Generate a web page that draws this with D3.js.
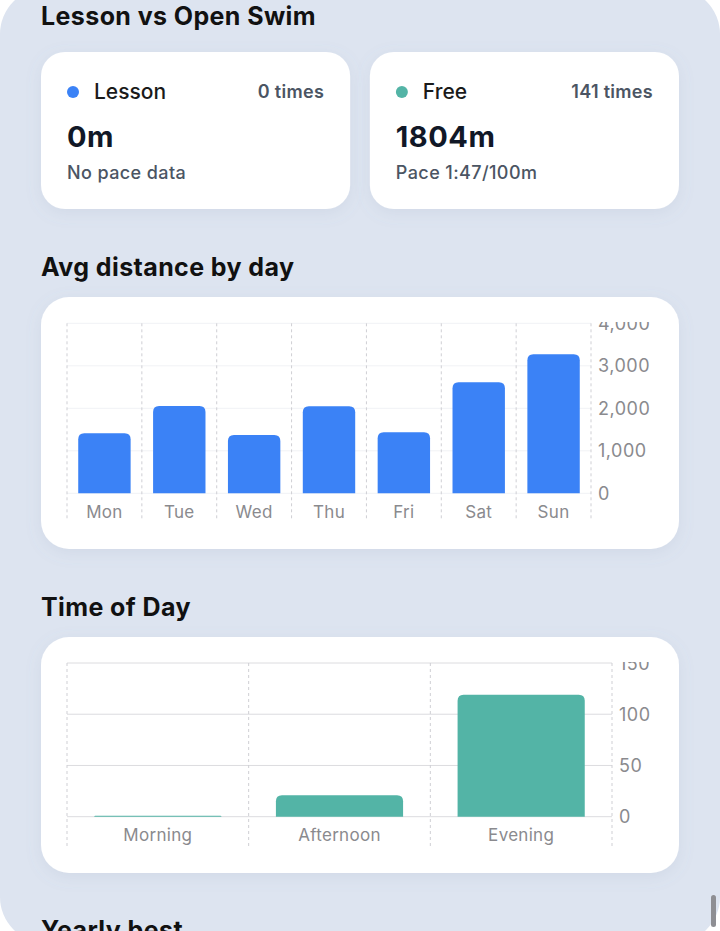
<!DOCTYPE html>
<html>
<head>
<meta charset="utf-8">
<script src="https://cdn.jsdelivr.net/npm/d3@7"></script>
<style>
  html, body { margin: 0; padding: 0; background: #ffffff; }
  svg { display: block; font-family: Inter, "Noto Sans", sans-serif; }
</style>
</head>
<body>
<svg id="chart" width="720" height="931"></svg>
<script>
// ---- data ----
const swimTypes = ["Lesson", "Free"];
const swimTimes = [0, 141];
const swimDistance = ["0m", "1804m"];
const swimPace = ["No pace data", "Pace 1:47/100m"];

const days = ["Mon", "Tue", "Wed", "Thu", "Fri", "Sat", "Sun"];
const avgDistance = [1412, 2054, 1372, 2050, 1435, 2612, 3271];
const distanceTicks = [0, 1000, 2000, 3000, 4000];

const periods = ["Morning", "Afternoon", "Evening"];
const sessionCounts = [1, 21, 119];
const countTicks = [0, 50, 100, 150];

// ---- style ----
const BLUE = "#3b82f6", TEAL = "#53b4a6";
const svg = d3.select("#chart");

const defs = svg.append("defs");
const f = defs.append("filter").attr("id", "shadow").attr("x", "-20%").attr("y", "-20%").attr("width", "140%").attr("height", "150%");
f.append("feDropShadow").attr("dx", 0).attr("dy", 4).attr("stdDeviation", 8).attr("flood-color", "#7a8aa8").attr("flood-opacity", 0.12);

// screen background
svg.append("rect").attr("x", 0).attr("y", -12).attr("width", 720).attr("height", 955)
  .attr("rx", 46).attr("fill", "#dde4f0");

function title(text, y) {
  svg.append("text").attr("x", 41).attr("y", y).text(text)
    .attr("font-size", 25).attr("font-weight", 700).attr("letter-spacing", 0.4).attr("fill", "#111111");
}
function card(x, y, w, h, r) {
  svg.append("rect").attr("x", x).attr("y", y).attr("width", w).attr("height", h)
    .attr("rx", r).attr("fill", "#ffffff").attr("filter", "url(#shadow)");
}
function topRounded(x, y, w, h, r) {
  r = Math.max(0, Math.min(r, h, w / 2));
  return `M${x},${y + h}V${y + r}Q${x},${y} ${x + r},${y}H${x + w - r}Q${x + w},${y} ${x + w},${y + r}V${y + h}Z`;
}

// ---- Lesson vs Open Swim ----
title("Lesson vs Open Swim", 25);
const cardX = d3.scaleBand().domain(swimTypes).range([41, 679]).paddingInner(0.06);
const dotColor = d3.scaleOrdinal().domain(swimTypes).range([BLUE, TEAL]);
swimTypes.forEach((t, i) => {
  const x0 = cardX(t), w = cardX.bandwidth();
  card(x0, 52, w, 157, 24);
  svg.append("circle").attr("cx", x0 + 32).attr("cy", 92).attr("r", 6).attr("fill", dotColor(t));
  svg.append("text").attr("x", x0 + 53).attr("y", 99).text(t)
    .attr("font-size", 21).attr("font-weight", 500).attr("fill", "#1a1a1a");
  svg.append("text").attr("x", x0 + w - 26).attr("y", 98).attr("text-anchor", "end")
    .text(swimTimes[i] + " times").attr("font-size", 18).attr("font-weight", 600)
    .attr("letter-spacing", 0.3).attr("fill", "#4b5563");
  svg.append("text").attr("x", x0 + 26).attr("y", 147).text(swimDistance[i])
    .attr("font-size", 29).attr("font-weight", 700).attr("letter-spacing", 0.5).attr("fill", "#111827");
  svg.append("text").attr("x", x0 + 26).attr("y", 179).text(swimPace[i])
    .attr("font-size", 18).attr("font-weight", 500).attr("letter-spacing", 0.4).attr("fill", "#4b5563");
});

// ---- generic bar chart ----
function barChart(opts) {
  const { cats, vals, ticks, color, x0, x1, yTop, yZero, vLineBottom, labelY, clipTop, cardBox, hGridColor, id } = opts;
  card(cardBox[0], cardBox[1], cardBox[2], cardBox[3], 28);
  const clip = defs.append("clipPath").attr("id", id);
  clip.append("rect").attr("x", cardBox[0]).attr("y", clipTop).attr("width", cardBox[2]).attr("height", cardBox[1] + cardBox[3] - clipTop);
  const g = svg.append("g").attr("clip-path", `url(#${id})`);

  const x = d3.scaleBand().domain(cats).range([x0, x1]).paddingInner(0.3).paddingOuter(0.15);
  const y = d3.scaleLinear().domain([0, d3.max(ticks)]).range([yZero, yTop]);
  const step = x.step();
  const boundaries = d3.range(cats.length + 1).map(i => x0 + i * step);

  // horizontal grid
  g.append("g").selectAll("line").data(ticks).join("line")
    .attr("x1", x0).attr("x2", x1).attr("y1", d => y(d)).attr("y2", d => y(d))
    .attr("stroke", hGridColor).attr("stroke-width", 1);
  // vertical dashed
  g.append("g").selectAll("line").data(boundaries).join("line")
    .attr("x1", d => d).attr("x2", d => d).attr("y1", yTop).attr("y2", vLineBottom)
    .attr("stroke", "#cfcfd4").attr("stroke-width", 1).attr("stroke-dasharray", "3,3");
  // bars
  g.append("g").selectAll("path").data(cats).join("path")
    .attr("d", (c, i) => topRounded(x(c), y(vals[i]), x.bandwidth(), yZero - y(vals[i]), 6))
    .attr("fill", color);
  // x labels
  g.append("g").selectAll("text").data(cats).join("text")
    .attr("x", c => x(c) + x.bandwidth() / 2).attr("y", labelY).attr("text-anchor", "middle")
    .text(c => c).attr("font-size", 17).attr("letter-spacing", 0.3).attr("fill", "#8a8a8e");
  // y labels
  const fmt = d3.format(",");
  g.append("g").selectAll("text").data(ticks).join("text")
    .attr("x", x1 + 7).attr("y", d => y(d)).attr("dominant-baseline", "central")
    .text(d => fmt(d)).attr("font-size", 18).attr("letter-spacing", 0.5).attr("fill", "#8a8a8e");
}

// ---- Avg distance by day ----
title("Avg distance by day", 276);
barChart({
  id: "clip1", cats: days, vals: avgDistance, ticks: distanceTicks, color: BLUE,
  x0: 67, x1: 591, yTop: 323.3, yZero: 493.3, vLineBottom: 521, labelY: 518,
  clipTop: 322, cardBox: [41, 297, 638, 252], hGridColor: "#f1f2f6"
});

// ---- Time of Day ----
title("Time of Day", 616);
barChart({
  id: "clip2", cats: periods, vals: sessionCounts, ticks: countTicks, color: TEAL,
  x0: 67, x1: 612, yTop: 663, yZero: 816.7, vLineBottom: 846, labelY: 841,
  clipTop: 662, cardBox: [41, 637, 638, 236], hGridColor: "#dcdcdf"
});

// ---- next section (cut off at the bottom edge, as in the reference) ----
title("Yearly best", 939);

// scrollbar
svg.append("rect").attr("x", 711).attr("y", 895).attr("width", 5).attr("height", 32).attr("rx", 2.5).attr("fill", "#8e8e93");
</script>
</body>
</html>
